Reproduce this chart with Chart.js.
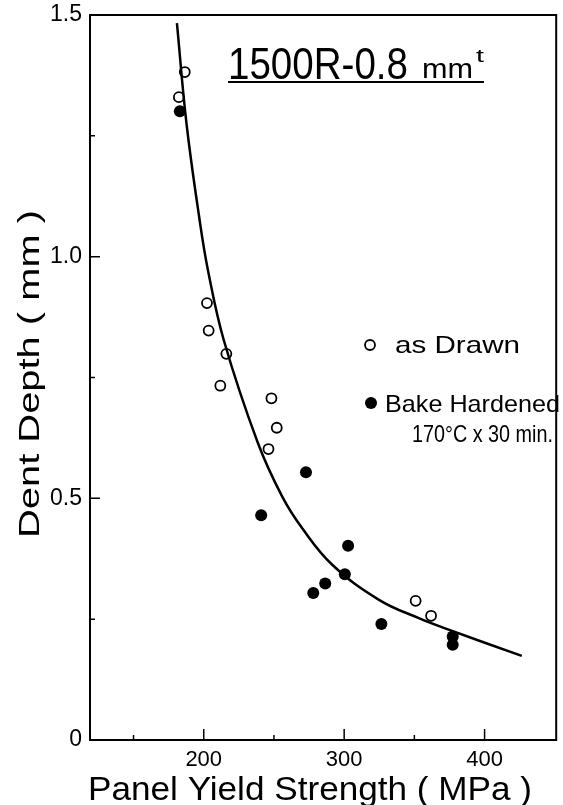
<!DOCTYPE html>
<html>
<head>
<meta charset="utf-8">
<script src="https://cdn.jsdelivr.net/npm/chart.js@4.4.1/dist/chart.umd.min.js"></script>
<style>
  body { margin: 0; background: #fff; }
</style>
</head>
<body>
<canvas id="dent-chart" width="563" height="805"></canvas>
<script>
// data (x = panel yield strength MPa, y = dent depth mm)
const asDrawnX = [186.5, 182.3, 202.3, 203.5, 216.1, 211.8, 248.2, 252.0, 246.1, 350.9, 361.9];
const asDrawnY = [1.382, 1.330, 0.904, 0.847, 0.799, 0.733, 0.707, 0.646, 0.602, 0.288, 0.257];
const bakedX = [183.0, 272.8, 240.9, 302.8, 300.5, 286.5, 278.0, 326.5, 377.3, 377.3];
const bakedY = [1.301, 0.554, 0.465, 0.402, 0.343, 0.324, 0.304, 0.240, 0.214, 0.197];
// fitted curve
const curveX = [180.9, 187.7, 196.7, 203.0, 214.4, 238.5, 256.0, 270.4, 291.7, 324.8, 353.2, 370.9, 426.5];
const curveY = [1.483, 1.276, 1.083, 0.972, 0.826, 0.615, 0.503, 0.437, 0.362, 0.290, 0.252, 0.232, 0.174];

const xRange = [119, 451];
const yRange = [0, 1.5];
const xMajorTicks = [200, 300, 400];
const xMinorTicks = [150, 250, 350];
const yMajorTicks = [0, 0.5, 1.0, 1.5];
const yMinorTicks = [0.25, 0.75, 1.25];

const FONT = '"Liberation Sans", "DejaVu Sans", sans-serif';

function toPoints(xs, ys) {
    return xs.map((x, i) => ({ x: x, y: ys[i] }));
}

// draw text squeezed/stretched to a given width (the original lettering is narrow)
function fitText(ctx, text, x, y, width, size) {
    ctx.font = size + 'px ' + FONT;
    const w = ctx.measureText(text).width;
    ctx.save();
    ctx.translate(x, y);
    ctx.scale(width / w, 1);
    ctx.textAlign = 'left';
    ctx.textBaseline = 'alphabetic';
    ctx.fillText(text, 0, 0);
    ctx.restore();
}

// frame, inward ticks, labels and legend
const decorations = {
    id: 'decorations',
    afterDraw(chart) {
        const ctx = chart.ctx;
        const a = chart.chartArea;
        const xs = chart.scales.x, ys = chart.scales.y;
        ctx.save();
        ctx.strokeStyle = '#000';
        ctx.fillStyle = '#000';
        ctx.lineWidth = 2;
        ctx.strokeRect(a.left, a.top, a.right - a.left, a.bottom - a.top);

        ctx.beginPath();
        xMajorTicks.forEach(v => { const p = xs.getPixelForValue(v); ctx.moveTo(p, a.bottom); ctx.lineTo(p, a.bottom - 11); });
        xMinorTicks.forEach(v => { const p = xs.getPixelForValue(v); ctx.moveTo(p, a.bottom); ctx.lineTo(p, a.bottom - 5); });
        yMajorTicks.forEach(v => { const p = ys.getPixelForValue(v); ctx.moveTo(a.left, p); ctx.lineTo(a.left + 10, p); });
        yMinorTicks.forEach(v => { const p = ys.getPixelForValue(v); ctx.moveTo(a.left, p); ctx.lineTo(a.left + 5, p); });
        ctx.lineWidth = 1.5;
        ctx.stroke();

        // title
        fitText(ctx, '1500R-0.8', 228, 79, 180, 44);
        fitText(ctx, 'mm', 422, 78, 51, 28);
        fitText(ctx, 't', 476, 62, 8, 18);
        ctx.beginPath();
        ctx.moveTo(228, 82); ctx.lineTo(484, 82);
        ctx.lineWidth = 2;
        ctx.stroke();

        // legend
        ctx.beginPath();
        ctx.arc(370, 345, 5, 0, Math.PI * 2);
        ctx.lineWidth = 1.8;
        ctx.stroke();
        fitText(ctx, 'as Drawn', 395, 353, 125, 24);
        ctx.beginPath();
        ctx.arc(371, 403, 6, 0, Math.PI * 2);
        ctx.fill();
        fitText(ctx, 'Bake Hardened', 385, 412, 175, 24);
        fitText(ctx, '170°C x 30 min.', 412, 442, 141, 24);

        // axis titles
        fitText(ctx, 'Panel Yield Strength ( MPa )', 88, 800, 444, 34);
        ctx.save();
        ctx.translate(39, 538);
        ctx.rotate(-Math.PI / 2);
        fitText(ctx, 'Dent Depth ( mm )', 0, 0, 328, 30);
        ctx.restore();
        ctx.restore();
    }
};

const ctx = document.getElementById('dent-chart').getContext('2d');
const dentChart = new Chart(ctx, {
    type: 'scatter',
    data: {
        datasets: [{
            label: 'fit',
            type: 'line',
            data: toPoints(curveX, curveY),
            borderColor: '#000',
            borderWidth: 2.5,
            pointRadius: 0,
            tension: 0.4,
            fill: false
        }, {
            label: 'as Drawn',
            data: toPoints(asDrawnX, asDrawnY),
            pointRadius: 5,
            pointBorderWidth: 1.8,
            pointBackgroundColor: '#fff',
            pointBorderColor: '#000'
        }, {
            label: 'Bake Hardened',
            data: toPoints(bakedX, bakedY),
            pointRadius: 6,
            pointBorderWidth: 0,
            pointBackgroundColor: '#000',
            pointBorderColor: '#000'
        }]
    },
    options: {
        responsive: false,
        animation: false,
        layout: { padding: { top: 15, right: 4, left: 0, bottom: 0 } },
        plugins: {
            legend: { display: false },
            tooltip: { enabled: false }
        },
        scales: {
            x: {
                type: 'linear',
                min: xRange[0],
                max: xRange[1],
                afterBuildTicks: s => { s.ticks = xMajorTicks.map(v => ({ value: v })); },
                afterFit: s => { s.height = 65; s.paddingLeft = 0; s.paddingRight = 0; },
                grid: { display: false, drawTicks: false },
                border: { display: false },
                ticks: {
                    color: '#000',
                    padding: 7,
                    font: { family: FONT, size: 22 }
                }
            },
            y: {
                type: 'linear',
                min: yRange[0],
                max: yRange[1],
                afterBuildTicks: s => { s.ticks = yMajorTicks.map(v => ({ value: v })); },
                afterFit: s => { s.width = 90; s.paddingTop = 0; s.paddingBottom = 0; },
                grid: { display: false, drawTicks: false },
                border: { display: false },
                ticks: {
                    color: '#000',
                    padding: 8,
                    font: { family: FONT, size: 23 },
                    callback: v => v === 0 ? '0' : v.toFixed(1)
                }
            }
        }
    },
    plugins: [decorations]
});
</script>
</body>
</html>
